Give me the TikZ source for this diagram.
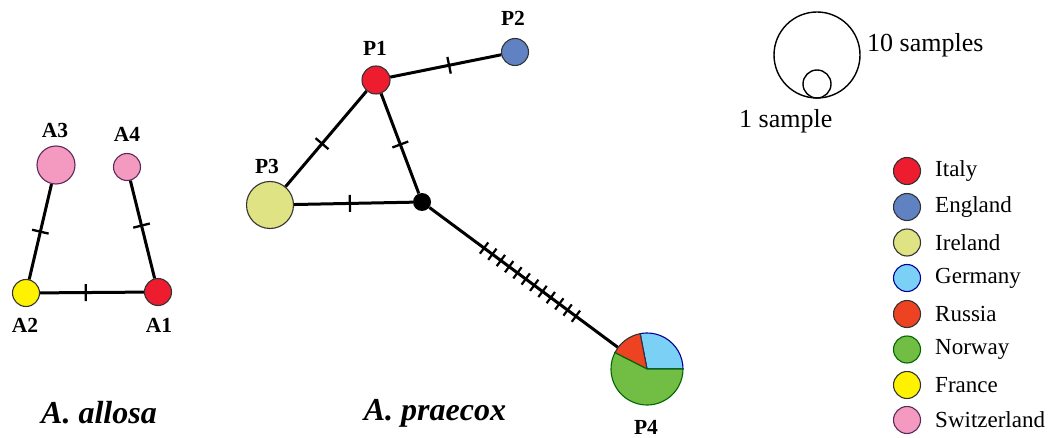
\documentclass[tikz,border=0pt]{standalone}
\usepackage{fontspec}
\setmainfont{Liberation Serif}
\definecolor{italy}{HTML}{ED1C2E}
\definecolor{england}{HTML}{6082C3}
\definecolor{ireland}{HTML}{E0E383}
\definecolor{germany}{HTML}{7AD1F5}
\definecolor{russia}{HTML}{EE4323}
\definecolor{norway}{HTML}{72BE44}
\definecolor{france}{HTML}{FFF200}
\definecolor{swiss}{HTML}{F49AC1}
\definecolor{swissedge}{HTML}{5C2A5A}
\definecolor{edgegray}{HTML}{333333}
\begin{document}
\begin{tikzpicture}[x=1pt,y=-1pt,
  hap/.style={circle,draw=edgegray,line width=1.1pt,inner sep=0pt},
  lbl/.style={font=\fontsize{21.5}{21.5}\selectfont\bfseries,inner sep=0pt},
  leg/.style={font=\fontsize{23}{23}\selectfont,inner sep=0pt,anchor=west},
  keytxt/.style={font=\fontsize{26}{26}\selectfont,inner sep=0pt,anchor=west},
  ttl/.style={font=\fontsize{32}{32}\selectfont\bfseries\itshape,inner sep=0pt},
  link/.style={line width=3pt,black},
  tickmark/.style={sloped,draw=black,line width=2.3pt,inner sep=0pt,minimum width=0pt,minimum height=17pt},
  hatch/.style={sloped,draw=black,line width=2.2pt,inner sep=0pt,minimum width=0pt,minimum height=14pt}]
\useasboundingbox (0,0) rectangle (1051,438);
% A. allosa
\node[hap,fill=swiss,draw=swissedge,minimum size=38pt] (A3) at (56,165) {};
\node[hap,fill=swiss,draw=swissedge,minimum size=27pt] (A4) at (127,167) {};
\node[hap,fill=france,minimum size=27pt] (A2) at (26,293) {};
\node[hap,fill=italy,minimum size=27pt] (A1) at (158,292) {};
\draw[link] (A3) -- (A2) node[tickmark,pos=0.5]{};
\draw[link] (A4) -- (A1) node[tickmark,pos=0.46]{};
\draw[link] (A2) -- (A1) node[tickmark,pos=0.44]{};
\node[lbl] (lA3) at (55,130) {A3};
\node[lbl] (lA4) at (127,134) {A4};
\node[lbl] (lA2) at (25,325) {A2};
\node[lbl] (lA1) at (159,325) {A1};
\node[ttl] (t1) at (99,413) {A. allosa};
% A. praecox
\node[hap,fill=italy,minimum size=28pt] (P1) at (376,80) {};
\node[hap,fill=england,minimum size=27pt] (P2) at (515,52) {};
\node[hap,fill=ireland,minimum size=47pt] (P3) at (270,205) {};
\node[circle,fill=black,inner sep=0pt,minimum size=18pt] (B) at (422,202) {};
\node[circle,inner sep=0pt,minimum size=72pt] (P4) at (647,369) {};
\draw[link] (P1) -- (P2) node[tickmark,pos=0.53]{};
\draw[link] (P1) -- (P3) node[tickmark,pos=0.55]{};
\draw[link] (P1) -- (B) node[tickmark,pos=0.51]{};
\draw[link] (P3) -- (B) node[tickmark,pos=0.47]{};
\draw[link] (B) -- (P4);
\path (B) -- (P4)
  node[hatch,pos=0.290]{} node[hatch,pos=0.334]{} node[hatch,pos=0.379]{}
  node[hatch,pos=0.423]{} node[hatch,pos=0.467]{} node[hatch,pos=0.511]{}
  node[hatch,pos=0.556]{} node[hatch,pos=0.600]{} node[hatch,pos=0.644]{}
  node[hatch,pos=0.689]{} node[hatch,pos=0.733]{} node[hatch,pos=0.777]{};
\filldraw[fill=germany,draw=blue!60!black,line width=1.1pt] (P4.center) -- ++(0:36pt) arc[start angle=0,end angle=101,radius=36pt] -- cycle;
\filldraw[fill=russia,draw=edgegray,line width=1.1pt] (P4.center) -- ++(101:36pt) arc[start angle=101,end angle=153,radius=36pt] -- cycle;
\filldraw[fill=norway,draw=green!40!black,line width=1.1pt] (P4.center) -- ++(153:36pt) arc[start angle=153,end angle=360,radius=36pt] -- cycle;
\node[lbl] (lP1) at (375,48) {P1};
\node[lbl] (lP2) at (513,18) {P2};
\node[lbl] (lP3) at (267,166) {P3};
\node[lbl] (lP4) at (646,427) {P4};
\node[ttl] (t2) at (435,413) {A. praecox};
% size key
\node[circle,draw=black,line width=1.4pt,inner sep=0pt,minimum size=86pt] (S10) at (817,55) {};
\node[circle,draw=black,line width=1.4pt,inner sep=0pt,minimum size=28pt] (S1) at (817,84) {};
\node[keytxt] (t10) at (867,45) {10 samples};
\node[keytxt] (t1s) at (739,121) {1 sample};
% legend
\foreach \c/\e/\n/\y in {italy/edgegray/Italy/171,england/edgegray/England/207,ireland/edgegray/Ireland/242.5,germany/blue!60!black/Germany/278,russia/edgegray/Russia/314,norway/green!40!black/Norway/349.5,france/edgegray/France/385,swiss/swissedge/Switzerland/420}{
  \node[hap,fill=\c,draw=\e,minimum size=27pt] (c\n) at (907,\y) {};
  \node[leg] (l\n) at (935,\y) {\n};
}
\end{tikzpicture}
\end{document}
